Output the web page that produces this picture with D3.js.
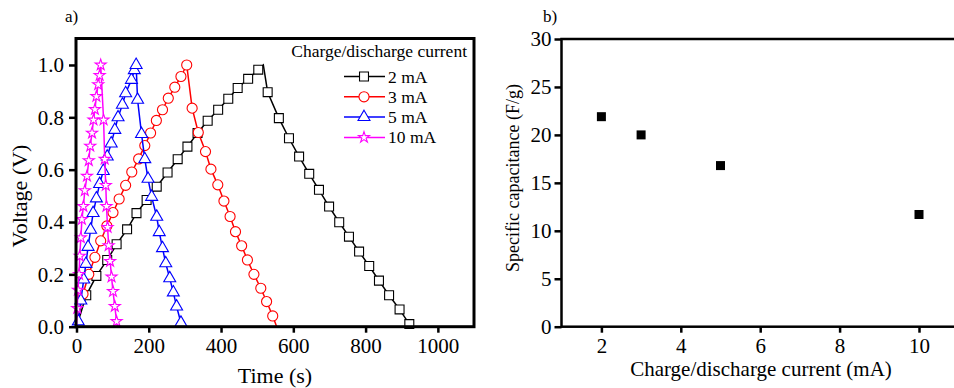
<html>
<head>
<script src="https://cdnjs.cloudflare.com/ajax/libs/d3/7.8.5/d3.min.js"></script>
<style>
  body { margin: 0; background: #fff; }
  text { font-family: "Liberation Serif", "Times New Roman", serif; fill: #000; }
  .axis line { stroke: #000; stroke-width: 2.5px; }
  .axis path { display: none; }
</style>
</head>
<body>
<svg width="954" height="388"></svg>
<script>
// ---- panel a) galvanostatic charge/discharge ----
var t2 = [0, 27, 55, 85, 111, 140, 166, 194, 222, 252, 280, 307, 335, 363, 392, 420, 446, 475, 503, 517,
          529, 560, 588, 616, 644, 671, 699, 727, 754, 782, 810, 837, 865, 894, 921];
var v2 = [0, 0.12, 0.194, 0.255, 0.315, 0.372, 0.434, 0.484, 0.535, 0.589, 0.64, 0.688, 0.74, 0.787, 0.829, 0.871, 0.912, 0.947, 0.982, 1.0,
          0.896, 0.797, 0.72, 0.65, 0.584, 0.523, 0.459, 0.399, 0.344, 0.287, 0.232, 0.176, 0.12, 0.066, 0.01];
var bare2 = [0, 19];

var t3 = [0, 18, 34, 51, 67, 84, 101, 118, 136, 153, 172, 189, 205, 221, 238, 254, 272, 289, 305,
          320, 337, 357, 372, 391, 408, 425, 440, 457, 473, 491, 510, 526, 543, 554];
var v3 = [0, 0.125, 0.2, 0.265, 0.328, 0.385, 0.436, 0.488, 0.54, 0.591, 0.641, 0.692, 0.74, 0.788, 0.829, 0.873, 0.915, 0.956, 1.0,
          0.835, 0.742, 0.669, 0.602, 0.542, 0.48, 0.421, 0.363, 0.309, 0.255, 0.2, 0.147, 0.096, 0.041, 0];
var bare3 = [0, 33];

var t5 = [0, 5, 12, 20, 26, 32, 39, 46, 55, 64, 74, 85, 96, 106, 115, 127, 136, 152, 160, 165,
          169, 180, 189, 198, 208, 222, 229, 238, 247, 258, 268, 277, 289, 292];
var v5 = [0, 0.02, 0.1, 0.18, 0.24, 0.305, 0.37, 0.434, 0.49, 0.545, 0.595, 0.65, 0.7, 0.752, 0.8, 0.848, 0.892, 0.943, 0.98, 1.0,
          0.867, 0.736, 0.64, 0.565, 0.496, 0.42, 0.361, 0.3, 0.242, 0.185, 0.131, 0.077, 0.015, 0];
var bare5 = [0, 33];

var t10 = [0, 2, 4, 7, 9, 12, 15, 19, 23, 29, 34, 38, 43, 47, 51, 55, 60, 64, 67,
           75, 78, 81, 83, 86, 89, 93, 97, 101, 106, 111, 113];
var v10 = [0, 0.07, 0.14, 0.2, 0.27, 0.34, 0.41, 0.46, 0.52, 0.575, 0.635, 0.69, 0.74, 0.79, 0.83, 0.88, 0.925, 0.96, 1.0,
           0.79, 0.64, 0.54, 0.46, 0.38, 0.31, 0.25, 0.19, 0.135, 0.078, 0.02, 0];
var bare10 = [0, 30];

var currentLabels = ["2 mA", "3 mA", "5 mA", "10 mA"];
var timeTicks = [0, 200, 400, 600, 800, 1000];
var voltTicks = [0, 0.2, 0.4, 0.6, 0.8, 1.0];

// ---- panel b) specific capacitance ----
var currents = [2, 3, 5, 10];
var capacitance = [21.9, 20.0, 16.8, 11.7];
var currentTicks = [2, 4, 6, 8, 10];
var capTicks = [0, 5, 10, 15, 20, 25, 30];

var svg = d3.select("svg");
var serif = "'Liberation Serif', 'Times New Roman', serif";

function styleAxis(g, size){
  g.attr("font-family", serif).attr("font-size", size);
  g.selectAll("text").style("font-family", serif).style("font-size", size + "px").attr("fill", "#000");
}

var series = [
  { t: t2, v: v2, bare: bare2, color: "#000000", sym: d3.symbolSquare, size: 80 },
  { t: t3, v: v3, bare: bare3, color: "#ff0000", sym: d3.symbolCircle, size: 80 },
  { t: t5, v: v5, bare: bare5, color: "#0000ff", sym: d3.symbolTriangle, size: 62 },
  { t: t10, v: v10, bare: bare10, color: "#ff00ff", sym: d3.symbolStar, size: 38 }
];

// panel a
var xA = d3.scaleLinear().domain([0, 1100]).range([76.5, 474]);
var yA = d3.scaleLinear().domain([0, 1.1]).range([326.7, 38.8]);

var gA = svg.append("g");
var line = d3.line().x(function(d){ return xA(d[0]); }).y(function(d){ return yA(d[1]); });

series.forEach(function(s){
  var pts = s.t.map(function(t, i){ return [t, s.v[i], i]; });
  gA.append("path").attr("d", line(pts))
    .attr("fill", "none").attr("stroke", s.color).attr("stroke-width", 1.5);
  gA.selectAll(null)
    .data(pts.filter(function(p){ return s.bare.indexOf(p[2]) < 0; }))
    .enter().append("path")
    .attr("d", d3.symbol().type(s.sym).size(s.size))
    .attr("transform", function(p){ return "translate(" + xA(p[0]) + "," + yA(p[1]) + ")"; })
    .attr("fill", "#fff").attr("stroke", s.color).attr("stroke-width", 1.1);
});

gA.append("rect").attr("x", 76).attr("y", 38.5).attr("width", 398).attr("height", 288.2)
  .attr("fill", "none").attr("stroke", "#000").attr("stroke-width", 3);

gA.append("g").attr("class", "axis").attr("transform", "translate(0,326.7)")
  .call(d3.axisBottom(xA).tickValues(timeTicks).tickSize(6).tickPadding(5).tickFormat(d3.format("d")))
  .call(styleAxis, 21);
gA.append("g").attr("class", "axis").attr("transform", "translate(76,0)")
  .call(d3.axisLeft(yA).tickValues(voltTicks).tickSize(7).tickPadding(5).tickFormat(d3.format(".1f")))
  .call(styleAxis, 21);

gA.append("text").attr("x", 275).attr("y", 383).attr("text-anchor", "middle")
  .style("font-size", "22px").text("Time (s)");
gA.append("text").attr("transform", "translate(27,196) rotate(-90)").attr("text-anchor", "middle")
  .style("font-size", "22px").text("Voltage (V)");
gA.append("text").attr("x", 65).attr("y", 22).style("font-size", "17px").text("a)");

// legend
var leg = gA.append("g");
leg.append("text").attr("x", 467).attr("y", 57).attr("text-anchor", "end")
  .style("font-size", "17.5px").text("Charge/discharge current");
series.forEach(function(s, i){
  var yy = 76.5 + i * 20.3;
  leg.append("line").attr("x1", 344).attr("x2", 385).attr("y1", yy).attr("y2", yy)
    .attr("stroke", s.color).attr("stroke-width", 1.5);
  leg.append("path").attr("d", d3.symbol().type(s.sym).size(s.size))
    .attr("transform", "translate(364," + yy + ")")
    .attr("fill", "#fff").attr("stroke", s.color).attr("stroke-width", 1.1);
  leg.append("text").attr("x", 388).attr("y", yy + 6).style("font-size", "17.5px").text(currentLabels[i]);
});

// panel b
var xB = d3.scaleLinear().domain([1, 11]).range([561.7, 958.7]);
var yB = d3.scaleLinear().domain([0, 30]).range([326.7, 39]);
var gB = svg.append("g");

gB.append("rect").attr("x", 561.5).attr("y", 39).attr("width", 400).attr("height", 287.7)
  .attr("fill", "none").attr("stroke", "#000").attr("stroke-width", 2.5);

gB.append("g").attr("class", "axis").attr("transform", "translate(0,326.7)")
  .call(d3.axisBottom(xB).tickValues(currentTicks).tickSize(6).tickPadding(5))
  .call(styleAxis, 21);
gB.append("g").attr("class", "axis").attr("transform", "translate(561.5,0)")
  .call(d3.axisLeft(yB).tickValues(capTicks).tickSize(7).tickPadding(3))
  .call(styleAxis, 21);

gB.selectAll(null).data(currents).enter().append("rect")
  .attr("x", function(d){ return xB(d) - 4.5; })
  .attr("y", function(d, i){ return yB(capacitance[i]) - 4.5; })
  .attr("width", 9).attr("height", 9).attr("fill", "#000");

gB.append("text").attr("x", 761).attr("y", 376).attr("text-anchor", "middle")
  .style("font-size", "21px").text("Charge/discharge current (mA)");
gB.append("text").attr("transform", "translate(519,178) rotate(-90)").attr("text-anchor", "middle")
  .style("font-size", "18px").text("Specific capacitance (F/g)");
gB.append("text").attr("x", 543).attr("y", 22).style("font-size", "17px").text("b)");
</script>
</body>
</html>
